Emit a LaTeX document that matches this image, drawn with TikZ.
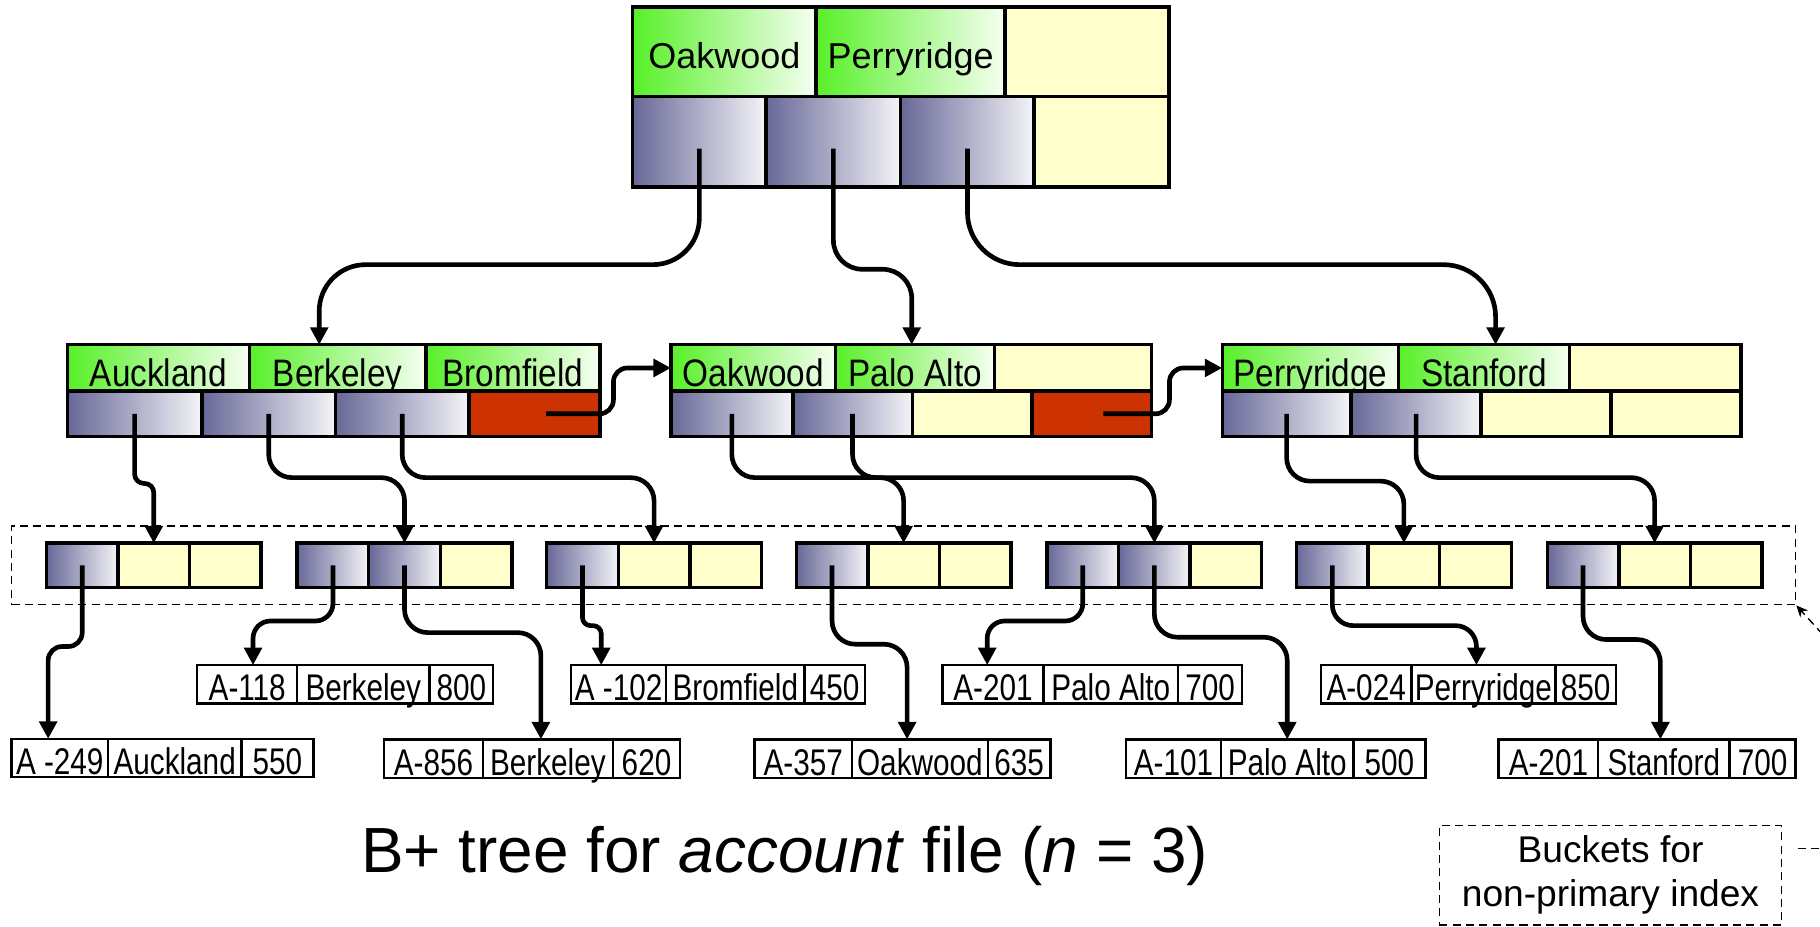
\documentclass[tikz,border=0pt]{standalone}
\usepackage{fontspec}
\setmainfont{Liberation Sans}
\newfontfamily\rootkeyfont{Liberation Sans}
\newfontfamily\nodekeyfont[FakeStretch=0.87]{Liberation Sans}
\newfontfamily\recordfont[FakeStretch=0.8]{Liberation Sans}
\usetikzlibrary{arrows.meta}

\definecolor{ptrdark}{RGB}{104,104,152}
\definecolor{ptrlight}{RGB}{244,244,248}
\definecolor{keygreen}{RGB}{88,240,40}
\definecolor{keywhite}{RGB}{246,255,242}
\definecolor{emptycell}{RGB}{255,255,204}
\definecolor{nextptr}{RGB}{204,51,0}

\begin{document}
\begin{tikzpicture}[x=1pt,y=-1pt,
  cell/.style={draw, line width=3pt, inner sep=0pt, outer sep=0pt, anchor=west},
  keyfill/.style={left color=keygreen, right color=keywhite},
  ptrfill/.style={left color=ptrdark, right color=ptrlight},
  emptyfill/.style={fill=emptycell},
  nextfill/.style={fill=nextptr},
  rootkey/.style={cell, minimum height=77pt, font=\rootkeyfont\fontsize{31}{36}\selectfont, text height=28.8pt, text depth=0pt},
  rootptr/.style={cell, minimum height=78pt},
  nodekey/.style={cell, minimum height=40pt, font=\nodekeyfont\fontsize{33}{38}\selectfont, text height=31.2pt, text depth=0pt},
  nodeptr/.style={cell, minimum height=39pt},
  bucketcell/.style={cell, minimum width=61.67pt, minimum height=38pt},
  rec/.style={draw, line width=2pt, inner sep=0pt, outer sep=0pt, anchor=west, minimum height=33pt, font=\recordfont\fontsize{32}{36}\selectfont, text height=28.8pt, text depth=0pt},
  conn/.style={line width=4pt, -{Triangle[length=15pt,width=15pt]}, rounded corners=#1},
  conn/.default=18pt,
  note/.style={line width=1.2pt, dash pattern=on 7pt off 4.5pt},
]
\useasboundingbox (0,0) rectangle (1568,798.6);

% ---------- root node ----------
\node[rootkey,keyfill,minimum width=158pt] (rk1) at (545,44.5) {Oakwood};
\node[rootkey,keyfill,minimum width=163pt] (rk2) at (rk1.east) {Perryridge};
\node[rootkey,emptyfill,minimum width=141pt] (rk3) at (rk2.east) {};
\node[rootptr,ptrfill,minimum width=115pt] (rp1) at (545,122) {};
\node[rootptr,ptrfill,minimum width=116pt] (rp2) at (rp1.east) {};
\node[rootptr,ptrfill,minimum width=115pt] (rp3) at (rp2.east) {};
\node[rootptr,emptyfill,minimum width=116pt] (rp4) at (rp3.east) {};

% ---------- leaf level of the tree ----------
\node[nodekey,keyfill,minimum width=157pt] (l1k1) at (58,317) {Auckland};
\node[nodekey,keyfill,minimum width=152pt] (l1k2) at (l1k1.east) {Berkeley};
\node[nodekey,keyfill,minimum width=150pt] (l1k3) at (l1k2.east) {Bromfield};
\node[nodeptr,ptrfill,minimum width=116pt] (l1p1) at (58,356.5) {};
\node[nodeptr,ptrfill,minimum width=115pt] (l1p2) at (l1p1.east) {};
\node[nodeptr,ptrfill,minimum width=115pt] (l1p3) at (l1p2.east) {};
\node[nodeptr,nextfill,minimum width=113pt] (l1p4) at (l1p3.east) {};

\node[nodekey,keyfill,minimum width=142pt] (l2k1) at (578,317) {Oakwood};
\node[nodekey,keyfill,minimum width=137pt] (l2k2) at (l2k1.east) {Palo Alto};
\node[nodekey,emptyfill,minimum width=135pt] (l2k3) at (l2k2.east) {};
\node[nodeptr,ptrfill,minimum width=105pt] (l2p1) at (578,356.5) {};
\node[nodeptr,ptrfill,minimum width=103pt] (l2p2) at (l2p1.east) {};
\node[nodeptr,emptyfill,minimum width=103pt] (l2p3) at (l2p2.east) {};
\node[nodeptr,nextfill,minimum width=103pt] (l2p4) at (l2p3.east) {};

\node[nodekey,keyfill,minimum width=152pt] (l3k1) at (1053,317) {Perryridge};
\node[nodekey,keyfill,minimum width=147pt] (l3k2) at (l3k1.east) {Stanford};
\node[nodekey,emptyfill,minimum width=148pt] (l3k3) at (l3k2.east) {};
\node[nodeptr,ptrfill,minimum width=111pt] (l3p1) at (1053,356.5) {};
\node[nodeptr,ptrfill,minimum width=112pt] (l3p2) at (l3p1.east) {};
\node[nodeptr,emptyfill,minimum width=112pt] (l3p3) at (l3p2.east) {};
\node[nodeptr,emptyfill,minimum width=112pt] (l3p4) at (l3p3.east) {};

% ---------- buckets ----------
\node[note,draw,minimum width=1537pt,minimum height=68pt,inner sep=0pt] (region) at (778.5,487) {};

\node[bucketcell,ptrfill] (b1a) at (40,487) {};
\node[bucketcell,emptyfill] (b1b) at (b1a.east) {};
\node[bucketcell,emptyfill] (b1c) at (b1b.east) {};
\node[bucketcell,ptrfill] (b2a) at (256,487) {};
\node[bucketcell,ptrfill] (b2b) at (b2a.east) {};
\node[bucketcell,emptyfill] (b2c) at (b2b.east) {};
\node[bucketcell,ptrfill] (b3a) at (471,487) {};
\node[bucketcell,emptyfill] (b3b) at (b3a.east) {};
\node[bucketcell,emptyfill] (b3c) at (b3b.east) {};
\node[bucketcell,ptrfill] (b4a) at (686,487) {};
\node[bucketcell,emptyfill] (b4b) at (b4a.east) {};
\node[bucketcell,emptyfill] (b4c) at (b4b.east) {};
\node[bucketcell,ptrfill] (b5a) at (902,487) {};
\node[bucketcell,ptrfill] (b5b) at (b5a.east) {};
\node[bucketcell,emptyfill] (b5c) at (b5b.east) {};
\node[bucketcell,ptrfill] (b6a) at (1117,487) {};
\node[bucketcell,emptyfill] (b6b) at (b6a.east) {};
\node[bucketcell,emptyfill] (b6c) at (b6b.east) {};
\node[bucketcell,ptrfill] (b7a) at (1333,487) {};
\node[bucketcell,emptyfill] (b7b) at (b7a.east) {};
\node[bucketcell,emptyfill] (b7c) at (b7b.east) {};

% ---------- account records ----------
\node[rec,minimum width=86pt] (r118a) at (170,589.5) {A-118};
\node[rec,minimum width=114pt] (r118b) at (r118a.east) {Berkeley};
\node[rec,minimum width=55pt] (r118c) at (r118b.east) {800};

\node[rec,minimum width=82pt] (r102a) at (492,589.5) {A -102};
\node[rec,minimum width=119pt] (r102b) at (r102a.east) {Bromfield};
\node[rec,minimum width=52pt] (r102c) at (r102b.east) {450};

\node[rec,minimum width=87pt] (r201pa) at (812,589.5) {A-201};
\node[rec,minimum width=116pt] (r201pb) at (r201pa.east) {Palo Alto};
\node[rec,minimum width=55pt] (r201pc) at (r201pb.east) {700};

\node[rec,minimum width=78pt] (r024a) at (1138,589.5) {A-024};
\node[rec,minimum width=124pt] (r024b) at (r024a.east) {Perryridge};
\node[rec,minimum width=52pt] (r024c) at (r024b.east) {850};

\node[rec,minimum width=83pt] (r249a) at (10,653) {A -249};
\node[rec,minimum width=115pt] (r249b) at (r249a.east) {Auckland};
\node[rec,minimum width=62pt] (r249c) at (r249b.east) {550};

\node[rec,minimum width=85pt] (r856a) at (331,653.5) {A-856};
\node[rec,minimum width=112pt] (r856b) at (r856a.east) {Berkeley};
\node[rec,minimum width=58pt] (r856c) at (r856b.east) {620};

\node[rec,minimum width=84pt] (r357a) at (650,653.5) {A-357};
\node[rec,minimum width=117pt] (r357b) at (r357a.east) {Oakwood};
\node[rec,minimum width=54pt] (r357c) at (r357b.east) {635};

\node[rec,minimum width=82pt] (r101a) at (970,653.5) {A-101};
\node[rec,minimum width=114pt] (r101b) at (r101a.east) {Palo Alto};
\node[rec,minimum width=62pt] (r101c) at (r101b.east) {500};

\node[rec,minimum width=86pt] (r201sa) at (1291,653.5) {A-201};
\node[rec,minimum width=113pt] (r201sb) at (r201sa.east) {Stanford};
\node[rec,minimum width=57pt] (r201sc) at (r201sb.east) {700};

% ---------- root pointers ----------
\draw[conn=40pt] ([yshift=-6pt]rp1.center) -- ++(0,100) -| ([xshift=-16pt]l1k2.north);
\draw[conn=25pt] ([yshift=-6pt]rp2.center) -- ++(0,104) -| ([xshift=-3pt]l2k2.north);
\draw[conn=45pt] ([yshift=-6pt]rp3.center) -- ++(0,100) -| ([xshift=10pt]l3k2.north);

% ---------- leaf pointers to buckets ----------
\draw[conn=8pt] (l1p1.center) -- ++(0,60) -| (b1b.north);
\draw[conn=20pt] (l1p2.center) -- ++(0,55) -| (b2b.north);
\draw[conn=20pt] (l1p3.center) -- ++(0,55) -| (b3b.north);
\draw[conn=20pt] (l2p1.center) -- ++(0,55) -| (b4b.north);
\draw[conn=20pt] (l2p2.center) -- ++(0,55) -| (b5b.north);
\draw[conn=20pt] (l3p1.center) -- ++(0,58) -| (b6b.north);
\draw[conn=20pt] (l3p2.center) -- ++(0,55) -| (b7b.north);

% ---------- next-leaf pointers ----------
\draw[conn=12pt] ([xshift=10pt]l1p4.center) -- ++(58,0) |- (l2k1.west);
\draw[conn=12pt] ([xshift=10pt]l2p4.center) -- ++(57,0) |- (l3k1.west);

% ---------- bucket entries to records ----------
\draw[conn=12pt] (b1a.center) -- ++(0,70) -| ([xshift=-10pt]r249a.north);
\draw[conn=15pt] (b2a.center) -- ++(0,48) -| ([xshift=5pt]r118a.north);
\draw[conn=20pt] (b2b.center) -- ++(0,58) -| ([xshift=-6pt]r856b.north);
\draw[conn=7pt] (b3a.center) -- ++(0,52) -| ([xshift=-15pt]r102a.north);
\draw[conn=20pt] (b4a.center) -- ++(0,68) -| ([xshift=-11pt]r357b.north);
\draw[conn=15pt] (b5a.center) -- ++(0,48) -| ([xshift=-5pt]r201pa.north);
\draw[conn=20pt] (b5b.center) -- ++(0,62) -| (r101b.north);
\draw[conn=18pt] (b6a.center) -- ++(0,52) -| ([xshift=-6pt]r024b.north);
\draw[conn=20pt] (b7a.center) -- ++(0,64) -| ([xshift=-3pt]r201sb.north);

% ---------- caption and legend ----------
\node[anchor=base, font=\fontsize{55}{60}\selectfont] (title) at (676,752)
  {B+ tree for \textit{account} file (\textit{n} = 3)};

\node[note, draw, minimum width=295pt, minimum height=86pt, inner sep=0pt, align=center,
      font=\fontsize{32}{38}\selectfont] (bucketlbl) at (1387.5,754)
  {Buckets for\\non-primary index};

\coordinate (offr) at (1580,731);
\coordinate (offa) at (1578,555);
\draw[note] (bucketlbl.east) ++(13,-23) -- (offr);
\draw[note, -{Stealth[length=10pt,width=9pt]}] (offa) -- (region.south east);
\end{tikzpicture}
\end{document}
